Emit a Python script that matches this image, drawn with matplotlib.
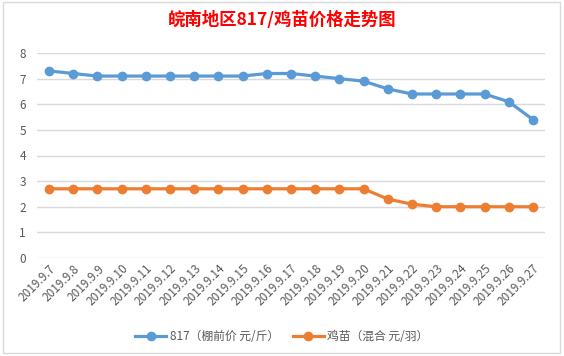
import matplotlib.pyplot as plt
from matplotlib.patches import Rectangle

plt.rcParams['font.family'] = ['Noto Sans CJK SC', 'DejaVu Sans']

dates = ['2019.9.%d' % d for d in range(7, 28)]
seedling_817 = [7.3, 7.2, 7.1, 7.1, 7.1, 7.1, 7.1, 7.1, 7.1, 7.2, 7.2,
                7.1, 7.0, 6.9, 6.6, 6.4, 6.4, 6.4, 6.4, 6.1, 5.4]
chick = [2.7, 2.7, 2.7, 2.7, 2.7, 2.7, 2.7, 2.7, 2.7, 2.7, 2.7,
         2.7, 2.7, 2.7, 2.3, 2.1, 2.0, 2.0, 2.0, 2.0, 2.0]
labels = ['817（棚前价 元/斤）', '鸡苗（混合 元/羽）']

fig = plt.figure(figsize=(5.64, 3.56), dpi=100)
fig.patches.append(Rectangle((3 / 564, 3 / 356), 557 / 564, 351 / 356,
                             transform=fig.transFigure, fill=False,
                             edgecolor='#D9D9D9', linewidth=1))

ax = fig.add_axes([37 / 564, 1 - 258 / 356, 508 / 564, 205 / 356])
x = list(range(len(dates)))
ax.plot(x, seedling_817, color='#5B9BD5', lw=2.3, marker='o', ms=6, label=labels[0])
ax.plot(x, chick, color='#ED7D31', lw=2.3, marker='o', ms=6, label=labels[1])

ax.set_xlim(-0.5, len(dates) - 0.5)
ax.set_ylim(0, 8)
ax.set_yticks(range(0, 9))
ax.grid(axis='y', color='#D9D9D9', lw=1)
ax.set_axisbelow(True)
for s in ax.spines.values():
    s.set_visible(False)
ax.set_xticks(x)
ax.set_xticklabels(dates, rotation=45, ha='right', rotation_mode='anchor')
ax.tick_params(length=0, labelsize=8.5, labelcolor='#595959')
ax.tick_params(axis='x', pad=3)
ax.tick_params(axis='y', pad=8)

fig.text(0.5, 1 - 20 / 356, '皖南地区817/鸡苗价格走势图', color='#FF0000',
         fontsize=12.5, fontweight='bold', ha='center', va='center')

fig.legend(loc='center', bbox_to_anchor=(0.5, 1 - 337 / 356), ncol=2,
           frameon=False, fontsize=8.5, labelcolor='#595959',
           handlelength=2.6, columnspacing=1.2, handletextpad=0.3)

fig.savefig('out.png', dpi=100)
